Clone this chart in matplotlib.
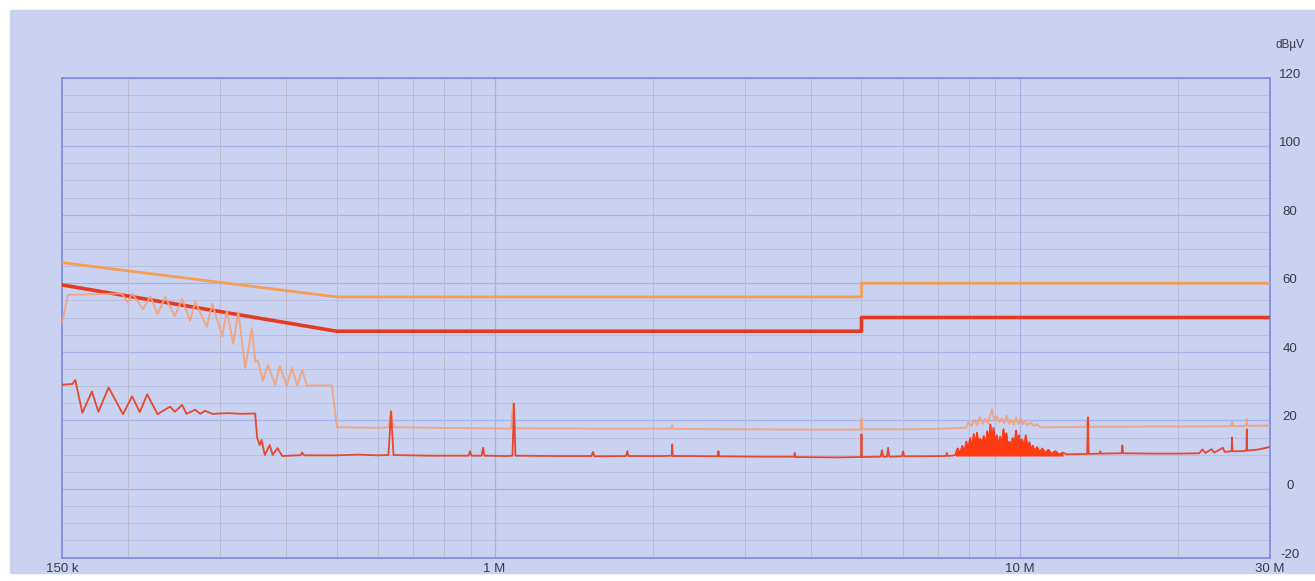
import matplotlib.pyplot as plt
import matplotlib.transforms as mtransforms
from matplotlib.patches import Rectangle

# limit lines (MHz, dBuV)
qp_freq = [0.15, 0.5, 5.0, 5.0, 30.0]
qp_level = [66, 56, 56, 60, 60]
av_freq = [0.15, 0.5, 5.0, 5.0, 30.0]
av_level = [59.5, 46, 46, 50, 50]

# peak detector sweep
pk_freq = [0.150, 0.154, 0.195, 0.200, 0.204, 0.214, 0.221, 0.228, 0.236, 0.246,
           0.254, 0.263, 0.269, 0.283, 0.290, 0.303, 0.309, 0.318, 0.325, 0.335,
           0.345, 0.350, 0.354, 0.362, 0.370, 0.382, 0.390, 0.402, 0.411, 0.421,
           0.430, 0.439, 0.449, 0.490, 0.501, 0.60, 0.628, 0.635, 0.642, 0.80,
           1.075, 1.085, 1.095, 1.5, 2.17, 2.18, 2.19, 3.0, 4.0, 4.98,
           5.0, 5.02, 6.0, 7.0, 7.8]
pk_level = [48.4, 56.6, 57.0, 54.4, 57.0, 52.4, 56.2, 51.0, 56.0, 50.4,
            55.4, 49.0, 54.6, 47.3, 54.0, 44.5, 52.0, 42.4, 51.7, 35.2,
            46.9, 37.2, 37.5, 31.5, 36.1, 30.4, 35.8, 30.1, 35.3, 30.1,
            34.7, 30.1, 30.2, 30.2, 18.0, 17.8, 18.0, 23.0, 18.0, 17.8,
            17.6, 25.0, 17.7, 17.6, 17.6, 18.6, 17.5, 17.4, 17.3, 17.3,
            20.5, 17.4, 17.4, 17.5, 17.8]
pk_burst_freq = [7.9, 8.0, 8.1, 8.2, 8.3, 8.4, 8.5, 8.6, 8.7, 8.8,
                 8.87, 8.95, 9.05, 9.15, 9.25, 9.35, 9.45, 9.55, 9.65, 9.75,
                 9.85, 9.95, 10.05, 10.15, 10.25, 10.35, 10.5, 10.65, 10.8, 10.95]
pk_burst_level = [17.8, 19.5, 18.4, 20.2, 18.6, 21.0, 19.0, 20.4, 19.2, 21.5,
                  23.2, 20.0, 21.2, 19.4, 20.6, 19.2, 21.4, 19.0, 20.2, 18.8,
                  20.8, 19.0, 20.6, 18.8, 19.8, 18.6, 19.4, 18.4, 18.8, 18.0]
pk_tail_freq = [11.5, 13.4, 13.5, 13.6, 18.0, 22.0, 25.3, 25.4, 25.5, 27.0,
                27.1, 27.2, 30.0]
pk_tail_level = [18.0, 18.1, 21.0, 18.1, 18.2, 18.2, 18.3, 19.6, 18.3, 18.4,
                 20.4, 18.4, 18.5]

# measured sweep
ms_freq = [0.150, 0.157, 0.159, 0.164, 0.171, 0.176, 0.184, 0.196, 0.204, 0.211,
           0.218, 0.228, 0.241, 0.246, 0.254, 0.259, 0.269, 0.275, 0.281, 0.290,
           0.310, 0.330, 0.350, 0.353, 0.357, 0.360, 0.365, 0.373, 0.378, 0.386,
           0.394, 0.420, 0.427, 0.430, 0.434, 0.500, 0.55, 0.60, 0.628, 0.635,
           0.642, 0.75, 0.85, 0.892, 0.898, 0.904, 0.945, 0.951, 0.957, 1.05,
           1.082, 1.089, 1.096, 1.3, 1.53, 1.54, 1.55, 1.78, 1.79, 1.80,
           2.1, 2.175, 2.18, 2.185, 2.4, 2.66, 2.67, 2.68, 3.2, 3.72,
           3.73, 3.74, 4.5, 4.99, 5.0, 5.01, 5.44, 5.47, 5.50, 5.59,
           5.62, 5.65, 5.97, 6.0, 6.03, 7.24, 7.27, 7.30, 7.5]
ms_level = [30.4, 30.6, 31.8, 22.2, 28.4, 22.5, 29.6, 21.8, 27.0, 22.4,
            27.6, 21.8, 24.0, 22.5, 24.5, 21.9, 23.1, 21.9, 22.8, 21.9,
            22.1, 21.9, 22.0, 14.9, 12.8, 14.3, 9.9, 12.8, 9.9, 11.9,
            9.6, 9.8, 9.8, 10.6, 9.8, 9.8, 10.0, 9.8, 9.9, 22.5,
            9.9, 9.7, 9.7, 9.7, 11.0, 9.7, 9.7, 12.0, 9.7, 9.6,
            9.7, 24.9, 9.7, 9.6, 9.6, 10.8, 9.5, 9.6, 11.0, 9.6,
            9.6, 9.7, 13.0, 9.6, 9.6, 9.5, 11.0, 9.5, 9.4, 9.4,
            10.5, 9.3, 9.2, 9.3, 16.0, 9.3, 9.4, 11.3, 9.4, 9.4,
            12.0, 9.4, 9.5, 11.0, 9.5, 9.6, 10.5, 9.6, 9.8]
ms_burst_freq = [7.55, 7.62, 7.70, 7.78, 7.85, 7.92, 7.98, 8.05, 8.12, 8.18,
                 8.25, 8.30, 8.36, 8.42, 8.48, 8.55, 8.62, 8.68, 8.75, 8.80,
                 8.86, 8.92, 8.98, 9.05, 9.12, 9.18, 9.25, 9.32, 9.38, 9.44,
                 9.50, 9.57, 9.64, 9.70, 9.78, 9.85, 9.92, 9.98, 10.05, 10.12,
                 10.20, 10.28, 10.36, 10.44, 10.52, 10.60, 10.70, 10.80, 10.92, 11.05,
                 11.20, 11.35, 11.50, 11.70, 11.90, 12.1]
ms_burst_level = [10.0, 11.8, 10.2, 12.5, 10.5, 13.8, 11.2, 14.8, 11.8, 16.0,
                  12.6, 16.4, 12.4, 14.6, 12.8, 15.4, 12.6, 16.8, 13.2, 18.8,
                  13.6, 17.8, 12.8, 15.6, 12.4, 15.2, 13.0, 17.4, 13.2, 16.2,
                  12.4, 13.8, 12.0, 14.8, 12.6, 17.0, 12.6, 15.6, 12.0, 14.4,
                  12.0, 15.6, 11.6, 13.6, 11.2, 12.6, 10.8, 12.2, 10.6, 11.8,
                  10.4, 11.4, 10.2, 11.0, 10.0, 10.6]
ms_tail_freq = [12.3, 13.45, 13.5, 13.55, 14.2, 14.25, 14.3, 15.65, 15.7, 15.75,
                18.0, 20.0, 22.0, 22.3, 22.6, 23.2, 23.5, 24.4, 24.6, 25.35,
                25.4, 25.45, 26.5, 27.05, 27.1, 27.15, 28.5, 29.5, 30.0]
ms_tail_level = [10.1, 10.2, 20.8, 10.2, 10.3, 11.0, 10.3, 10.4, 12.7, 10.4,
                 10.3, 10.3, 10.4, 11.5, 10.5, 11.6, 10.6, 12.0, 10.8, 11.0,
                 15.0, 11.0, 11.0, 11.2, 17.4, 11.2, 11.5, 12.0, 12.3]

x_tick_vals = [0.15, 1, 10, 30]
x_tick_labels = ['150 k', '1 M', '10 M', '30 M']
y_tick_vals = [120, 100, 80, 60, 40, 20, 0, -20]

bg = '#cad2f2'
text_color = '#3a3a48'
font = ['Liberation Sans Narrow', 'Liberation Sans', 'DejaVu Sans']

fig = plt.figure(figsize=(13.15, 5.81), dpi=100, facecolor='white')
fig.patches.append(Rectangle((10 / 1315, 8 / 581), 1305 / 1315, 563 / 581,
                             transform=fig.transFigure, color=bg, zorder=-5))
ax = fig.add_axes([62 / 1315, 1 - 557.5 / 581, 1208 / 1315, 480 / 581])
ax.set_zorder(2)
ax.set_facecolor(bg)
ax.set_xscale('log')
ax.set_xlim(0.15, 30)
ax.set_ylim(-20, 120)

# grid: 5 dB steps, 20 dB lines stronger; 1-2-3..9 frequency lines
for v in range(-20, 121, 5):
    if v % 20 == 0:
        ax.axhline(v, color='#a6b0ea', lw=0.9, zorder=1)
    else:
        ax.axhline(v, color='#b9bede', lw=0.7, zorder=1)
for dec in [0.1, 1, 10]:
    for m in range(2, 10):
        f = dec * m
        if 0.15 < f < 30:
            ax.axvline(f, color='#bdbbd2', lw=0.7, zorder=1)
for f in [1, 10]:
    ax.axvline(f, color='#a6b0ea', lw=0.9, zorder=1)

# limits
ax.plot(qp_freq, qp_level, color='#f49f55', lw=2.0, zorder=3)
ax.plot(av_freq, av_level, color='#e53a22', lw=2.6, zorder=3)

# peak sweep
pk_all_f = pk_freq + pk_burst_freq + pk_tail_freq
pk_all_l = pk_level + pk_burst_level + pk_tail_level
ax.plot(pk_all_f, pk_all_l, color='#f3a27c', lw=1.4, alpha=0.9, zorder=4)

# measured sweep
ms_all_f = ms_freq + ms_burst_freq + ms_tail_freq
ms_all_l = ms_level + ms_burst_level + ms_tail_level
ax.plot(ms_all_f, ms_all_l, color='#e4482e', lw=1.3, zorder=5)
ax.fill_between(ms_burst_freq, 9.6, ms_burst_level, color='#ff3a12', lw=0, zorder=5)
ax.plot(ms_burst_freq, ms_burst_level, color='#ff3a12', lw=1.0, zorder=5)

for s in ax.spines.values():
    s.set_color('#7a88e0')
    s.set_linewidth(1.2)
ax.set_xticks([])
ax.set_yticks([])
ax.minorticks_off()

# axis labels
xt = mtransforms.blended_transform_factory(ax.transData, ax.transAxes)
for v, lab in zip(x_tick_vals, x_tick_labels):
    ax.text(v, -0.024, lab, transform=xt, ha='center', va='center',
            fontsize=9.5, color=text_color, family=font)
yt = mtransforms.blended_transform_factory(ax.transAxes, ax.transData)
yt = mtransforms.offset_copy(yt, fig=fig, x=0, y=3, units='dots')
for v in y_tick_vals:
    ax.text(1.0166, v, str(v), transform=yt, ha='center', va='center',
            fontsize=9.5, color=text_color, family=font)
ax.text(1.0166, 1.068, 'dB\u00b5V', transform=ax.transAxes, ha='center', va='center',
        fontsize=8.5, color=text_color, family=font)

fig.savefig('out.png', dpi=100, facecolor='white')
